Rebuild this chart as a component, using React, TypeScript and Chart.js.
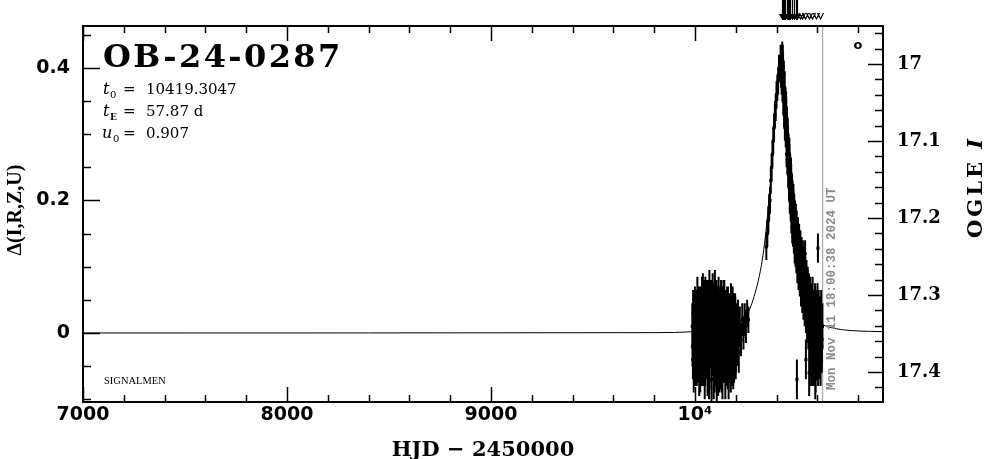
import React, { useEffect, useRef } from "react";
import { Chart, registerables } from "chart.js";

Chart.register(...registerables);

// ---- axis ranges ----
const X_MIN = 7000;
const X_MAX = 10922;
const Y_MIN = -0.1042;
const Y_MAX = 0.4634;
const MAG_TOP = 16.9506;
const MAG_BOTTOM = 17.439;

// ---- tick labels ----
const xTickValues = [7000, 8000, 9000, 10000];
const xTickLabels = ["7000", "8000", "9000", "10⁴"];
const yTickValues = [0, 0.2, 0.4];
const yTickLabels = ["0", "0.2", "0.4"];
const magTickValues = [17, 17.1, 17.2, 17.3, 17.4];
const magTickLabels = ["17", "17.1", "17.2", "17.3", "17.4"];

// ---- event info ----
const eventName = "OB-24-0287";
const paramT0 = "10419.3047";
const paramTE = "57.87 d";
const paramU0 = "0.907";
const nowHJD = 10626.25;
const nowLabel = "Mon Nov 11 18:00:38 2024 UT";

// ---- OGLE photometry: [HJD-2450000, delta flux, error] ----
const season2023a: [number, number, number][] = [
  [9987, 0.01, 0.035], [9990, -0.04, 0.03], [9993, 0.02, 0.04], [9996, -0.02, 0.035],
  [9999, 0.0, 0.03], [10002, -0.05, 0.03], [10005, 0.03, 0.035], [10008, -0.01, 0.04],
  [10011, 0.02, 0.03], [10014, -0.04, 0.035], [10017, 0.04, 0.03], [10020, -0.02, 0.04],
  [10023, 0.01, 0.035], [10026, -0.06, 0.03], [10029, 0.03, 0.04], [10032, -0.01, 0.03],
  [10035, 0.05, 0.035], [10038, -0.04, 0.04], [10041, 0.0, 0.03], [10044, -0.03, 0.035],
  [10047, 0.04, 0.04], [10050, -0.05, 0.03], [10053, 0.02, 0.035], [10056, -0.02, 0.04],
  [10059, 0.05, 0.03], [10062, -0.06, 0.035], [10065, 0.01, 0.04], [10068, -0.03, 0.03],
  [10071, 0.06, 0.035], [10074, -0.01, 0.04], [10077, 0.03, 0.03], [10080, -0.05, 0.035],
  [10083, 0.02, 0.04], [10086, -0.02, 0.03], [10089, 0.04, 0.035], [10092, -0.06, 0.04],
  [10095, 0.01, 0.03], [10098, 0.06, 0.035], [10101, -0.04, 0.04], [10104, 0.02, 0.03],
  [10107, -0.07, 0.035], [10110, 0.03, 0.04], [10113, -0.02, 0.03], [10116, 0.05, 0.035],
  [10119, -0.05, 0.04], [10122, 0.0, 0.03], [10125, -0.03, 0.035], [10128, 0.04, 0.04],
  [10131, -0.06, 0.03], [10134, 0.02, 0.035], [10137, -0.01, 0.04], [10140, 0.05, 0.03],
  [10143, -0.04, 0.035], [10146, 0.01, 0.04], [10149, -0.07, 0.03], [10152, 0.03, 0.035],
  [10155, -0.02, 0.04], [10158, 0.04, 0.03], [10161, -0.05, 0.035], [10164, 0.0, 0.04],
  [10167, 0.03, 0.03], [10170, -0.04, 0.035], [10173, 0.02, 0.04], [10176, -0.06, 0.03],
  [10179, 0.01, 0.035], [10182, -0.02, 0.04], [10185, 0.04, 0.03], [10188, -0.05, 0.035],
  [10191, 0.02, 0.03], [10194, -0.03, 0.035], [10197, 0.03, 0.03], [10200, -0.04, 0.03],
  [10203, 0.01, 0.035], [10207, -0.02, 0.03], [10211, 0.02, 0.03], [10215, -0.03, 0.03],
  [10220, 0.01, 0.03], [10226, -0.01, 0.025], [10232, 0.02, 0.025], [10238, 0.0, 0.025],
  [10244, 0.02, 0.025], [10250, 0.01, 0.025], [10256, 0.03, 0.02], [10262, 0.02, 0.02],
];

const season2023b: [number, number, number][] = [
  [9988, -0.02, 0.03], [9991, 0.03, 0.035], [9994, -0.06, 0.03], [9997, 0.01, 0.04],
  [10000, 0.04, 0.03], [10003, -0.03, 0.035], [10006, 0.0, 0.04], [10009, -0.05, 0.03],
  [10012, 0.05, 0.035], [10015, -0.01, 0.03], [10018, 0.02, 0.04], [10021, -0.06, 0.035],
  [10024, 0.04, 0.03], [10027, -0.02, 0.04], [10030, 0.01, 0.035], [10033, -0.05, 0.03],
  [10036, 0.03, 0.04], [10039, 0.06, 0.03], [10042, -0.04, 0.035], [10045, 0.01, 0.04],
  [10048, -0.07, 0.03], [10051, 0.05, 0.035], [10054, -0.03, 0.04], [10057, 0.0, 0.03],
  [10060, 0.03, 0.04], [10063, -0.04, 0.035], [10066, 0.05, 0.03], [10069, -0.06, 0.04],
  [10072, 0.02, 0.035], [10075, -0.02, 0.03], [10078, 0.04, 0.04], [10081, -0.07, 0.035],
  [10084, 0.0, 0.03], [10087, 0.05, 0.04], [10090, -0.03, 0.035], [10093, 0.03, 0.03],
  [10096, -0.05, 0.04], [10099, 0.02, 0.035], [10102, -0.01, 0.04], [10105, 0.05, 0.03],
  [10108, -0.04, 0.035], [10111, 0.0, 0.04], [10114, -0.06, 0.035], [10117, 0.03, 0.03],
  [10120, 0.01, 0.04], [10123, -0.05, 0.035], [10126, 0.04, 0.03], [10129, -0.02, 0.04],
  [10132, 0.02, 0.035], [10135, -0.07, 0.03], [10138, 0.03, 0.04], [10141, -0.03, 0.035],
  [10144, 0.05, 0.03], [10147, -0.01, 0.04], [10150, 0.02, 0.035], [10153, -0.05, 0.03],
  [10156, 0.01, 0.04], [10159, -0.04, 0.035], [10162, 0.04, 0.03], [10165, -0.06, 0.04],
  [10168, 0.0, 0.035], [10171, 0.03, 0.03], [10174, -0.03, 0.04], [10177, 0.04, 0.035],
  [10180, -0.05, 0.03], [10183, 0.01, 0.035], [10186, -0.02, 0.04], [10189, 0.03, 0.03],
  [10192, -0.04, 0.035], [10195, 0.0, 0.03], [10198, 0.02, 0.035], [10201, -0.03, 0.03],
];

const season2024Rise: [number, number, number][] = [
  [10350, 0.13, 0.02], [10355, 0.15, 0.02], [10360, 0.17, 0.02], [10364, 0.19, 0.02],
  [10368, 0.2, 0.02], [10372, 0.23, 0.02], [10376, 0.25, 0.02], [10380, 0.27, 0.02],
  [10384, 0.29, 0.02], [10388, 0.31, 0.02], [10392, 0.33, 0.02], [10396, 0.34, 0.02],
  [10400, 0.36, 0.02], [10404, 0.37, 0.02], [10408, 0.38, 0.02], [10412, 0.4, 0.02],
  [10416, 0.4, 0.02], [10420, 0.41, 0.025], [10422, 0.39, 0.02],
];

const season2024FallA: [number, number, number][] = [
  [10424, 0.41, 0.025], [10426, 0.39, 0.02], [10428, 0.42, 0.02], [10430, 0.38, 0.02],
  [10432, 0.4, 0.025], [10434, 0.36, 0.02], [10436, 0.39, 0.02], [10438, 0.35, 0.02],
  [10440, 0.37, 0.025], [10442, 0.33, 0.02], [10444, 0.35, 0.02], [10446, 0.31, 0.02],
  [10448, 0.33, 0.025], [10450, 0.29, 0.02], [10452, 0.31, 0.02], [10454, 0.27, 0.02],
  [10456, 0.29, 0.025], [10458, 0.25, 0.02], [10460, 0.27, 0.02], [10462, 0.23, 0.02],
  [10464, 0.26, 0.025], [10466, 0.22, 0.02], [10468, 0.24, 0.02], [10470, 0.2, 0.02],
  [10472, 0.23, 0.025], [10474, 0.19, 0.02], [10476, 0.22, 0.02], [10478, 0.18, 0.025],
  [10480, 0.2, 0.02], [10482, 0.17, 0.02], [10484, 0.19, 0.025], [10486, 0.16, 0.02],
  [10488, 0.18, 0.02], [10490, 0.15, 0.025], [10492, 0.17, 0.02], [10494, 0.14, 0.02],
  [10496, 0.16, 0.025], [10498, 0.13, 0.02], [10500, 0.15, 0.025], [10503, 0.12, 0.02],
  [10506, 0.14, 0.025], [10509, 0.11, 0.02], [10512, 0.13, 0.025], [10515, 0.1, 0.02],
  [10518, 0.12, 0.025], [10521, 0.09, 0.02], [10524, 0.11, 0.03], [10527, 0.08, 0.025],
  [10530, 0.1, 0.03], [10533, 0.07, 0.025], [10536, 0.09, 0.03], [10539, 0.06, 0.025],
  [10542, 0.08, 0.03], [10545, 0.05, 0.03], [10548, 0.07, 0.03], [10551, 0.04, 0.03],
  [10554, 0.06, 0.035], [10557, 0.03, 0.03], [10560, 0.05, 0.035], [10563, 0.02, 0.03],
  [10566, 0.04, 0.035], [10569, 0.01, 0.03], [10572, 0.03, 0.035], [10575, 0.0, 0.04],
  [10578, 0.02, 0.035], [10581, -0.01, 0.04], [10584, 0.01, 0.035], [10587, -0.02, 0.04],
  [10590, 0.02, 0.035], [10593, -0.03, 0.04], [10596, 0.01, 0.035], [10599, -0.02, 0.04],
  [10602, 0.0, 0.035], [10605, 0.02, 0.03], [10608, -0.01, 0.04], [10611, 0.01, 0.035],
  [10614, -0.03, 0.04], [10617, 0.0, 0.035], [10620, 0.01, 0.03], [10623, -0.01, 0.035],
];

const season2024FallB: [number, number, number][] = [
  [10425, 0.38, 0.02], [10427, 0.41, 0.02], [10429, 0.37, 0.02], [10431, 0.41, 0.025],
  [10433, 0.35, 0.02], [10435, 0.38, 0.02], [10437, 0.33, 0.02], [10439, 0.37, 0.025],
  [10441, 0.31, 0.02], [10443, 0.35, 0.02], [10445, 0.3, 0.02], [10447, 0.34, 0.025],
  [10449, 0.27, 0.02], [10451, 0.32, 0.02], [10453, 0.26, 0.02], [10455, 0.3, 0.025],
  [10457, 0.24, 0.02], [10459, 0.28, 0.02], [10461, 0.22, 0.02], [10463, 0.27, 0.025],
  [10465, 0.2, 0.02], [10467, 0.25, 0.02], [10469, 0.19, 0.02], [10471, 0.24, 0.025],
  [10473, 0.17, 0.02], [10475, 0.22, 0.02], [10477, 0.16, 0.025], [10479, 0.21, 0.02],
  [10481, 0.15, 0.02], [10483, 0.2, 0.025], [10485, 0.14, 0.02], [10487, 0.19, 0.02],
  [10489, 0.13, 0.025], [10491, 0.18, 0.02], [10493, 0.12, 0.02], [10495, 0.17, 0.025],
  [10497, 0.11, 0.02], [10499, 0.16, 0.025], [10502, 0.1, 0.025], [10505, 0.15, 0.025],
  [10508, 0.09, 0.025], [10511, 0.14, 0.025], [10514, 0.08, 0.025], [10517, 0.13, 0.025],
  [10520, 0.07, 0.03], [10523, 0.12, 0.025], [10526, 0.06, 0.03], [10529, 0.11, 0.03],
  [10532, 0.05, 0.03], [10535, 0.1, 0.03], [10538, 0.04, 0.03], [10541, 0.09, 0.03],
  [10544, 0.03, 0.03], [10547, 0.08, 0.03], [10550, 0.02, 0.035], [10553, 0.07, 0.03],
  [10556, 0.01, 0.035], [10559, 0.06, 0.03], [10562, -0.01, 0.035], [10565, 0.05, 0.035],
  [10568, -0.02, 0.035], [10571, 0.04, 0.035], [10574, -0.03, 0.04], [10577, 0.05, 0.035],
  [10580, -0.04, 0.04], [10583, 0.03, 0.035], [10586, -0.02, 0.04], [10589, 0.04, 0.035],
  [10592, -0.05, 0.04], [10595, 0.03, 0.035], [10598, -0.03, 0.04], [10601, 0.04, 0.035],
  [10604, -0.04, 0.04], [10607, 0.03, 0.035], [10610, -0.02, 0.04], [10613, 0.02, 0.035],
  [10616, -0.04, 0.04], [10619, 0.03, 0.035], [10622, -0.02, 0.04], [10625, 0.01, 0.035],
];

const season2024Outliers: [number, number, number][] = [
  [10500, -0.07, 0.03], [10540, 0.12, 0.02], [10544, -0.04, 0.03], [10560, -0.06, 0.035],
  [10570, -0.05, 0.03], [10590, -0.07, 0.03], [10603, 0.128, 0.022],
];

// ---- model curve ----
const modelT = [
  7000, 9800, 10000, 10100, 10150, 10200, 10230, 10250, 10270, 10290, 10310, 10330,
  10345, 10360, 10375, 10390, 10400, 10410, 10419, 10428, 10438, 10450, 10465, 10480,
  10500, 10520, 10545, 10570, 10600, 10630, 10670, 10720, 10800, 10922,
];
const modelD = [
  0, 0.0005, 0.002, 0.005, 0.008, 0.013, 0.018, 0.025, 0.037, 0.055, 0.078, 0.11,
  0.145, 0.19, 0.245, 0.31, 0.355, 0.395, 0.415, 0.405, 0.36, 0.29, 0.235, 0.19,
  0.145, 0.11, 0.075, 0.04, 0.02, 0.012, 0.008, 0.005, 0.003, 0.002,
];

// ---- observation arrows along the top ----
const arrowShafts = [10427, 10432, 10437, 10443, 10449, 10455, 10461, 10468, 10476, 10485, 10494, 10502];
const arrowHeadsOnly = [10514, 10527, 10542, 10558, 10576, 10595, 10612];

const allPoints = [
  ...season2023a,
  ...season2023b,
  ...season2024Rise,
  ...season2024FallA,
  ...season2024FallB,
  ...season2024Outliers,
];

const framePlugin = {
  id: "frameAndText",
  afterDraw(chart: any) {
    const { ctx, chartArea: a, scales } = chart;
    const xs = scales.x;
    const ys = scales.y;
    const ms = scales.y2;
    ctx.save();
    ctx.strokeStyle = "#000";
    ctx.fillStyle = "#000";

    // frame
    ctx.lineWidth = 2;
    ctx.strokeRect(a.left, a.top, a.right - a.left, a.bottom - a.top);

    // ticks
    ctx.lineWidth = 1.5;
    ctx.beginPath();
    for (let k = 35; k <= 54; k++) {
      const v = k * 200;
      const px = Math.round(xs.getPixelForValue(v)) + 0.5;
      const len = k % 5 === 0 ? 15 : 7;
      ctx.moveTo(px, a.bottom);
      ctx.lineTo(px, a.bottom - len);
      ctx.moveTo(px, a.top);
      ctx.lineTo(px, a.top + len);
    }
    for (let k = -2; k <= 9; k++) {
      const py = Math.round(ys.getPixelForValue(k * 0.05)) + 0.5;
      const len = k % 4 === 0 ? 17 : 8;
      ctx.moveTo(a.left, py);
      ctx.lineTo(a.left + len, py);
    }
    for (let k = 848; k <= 871; k++) {
      const py = Math.round(ms.getPixelForValue(k / 50)) + 0.5;
      const len = k % 5 === 0 ? 15 : 8;
      ctx.moveTo(a.right, py);
      ctx.lineTo(a.right - len, py);
    }
    ctx.stroke();

    // arrows above the frame
    ctx.lineWidth = 1.2;
    ctx.beginPath();
    for (const t of arrowShafts) {
      const px = Math.round(xs.getPixelForValue(t)) + 0.5;
      ctx.moveTo(px, 0);
      ctx.lineTo(px, 19);
      ctx.moveTo(px - 3, 14);
      ctx.lineTo(px, 19);
      ctx.lineTo(px + 3, 14);
    }
    for (const t of arrowHeadsOnly) {
      const px = Math.round(xs.getPixelForValue(t)) + 0.5;
      ctx.moveTo(px - 3, 13);
      ctx.lineTo(px, 19);
      ctx.lineTo(px + 3, 13);
    }
    ctx.stroke();

    // title and parameters
    ctx.textAlign = "left";
    ctx.textBaseline = "alphabetic";
    ctx.save();
    (ctx as any).letterSpacing = "2.4px";
    ctx.font = "bold 32px 'DejaVu Serif'";
    ctx.fillText(eventName, 103, 67);
    ctx.restore();

    const sym = "italic 16px 'DejaVu Serif'";
    const sub = "10px 'DejaVu Serif'";
    const val = "15px 'DejaVu Serif'";
    ctx.font = sym; ctx.fillText("t", 103, 94);
    ctx.font = sub; ctx.fillText("0", 110, 98);
    ctx.font = val; ctx.fillText("=", 123, 94); ctx.fillText(paramT0, 146, 94);
    ctx.font = sym; ctx.fillText("t", 103, 116);
    ctx.font = "bold 9px 'DejaVu Serif'"; ctx.fillText("E", 110, 120);
    ctx.font = val; ctx.fillText("=", 123, 116); ctx.fillText(paramTE, 146, 116);
    ctx.font = sym; ctx.fillText("u", 102, 138);
    ctx.font = sub; ctx.fillText("0", 113, 142);
    ctx.font = val; ctx.fillText("=", 123, 138); ctx.fillText(paramU0, 146, 138);

    // SIGNALMEN
    ctx.font = "10.5px 'Liberation Serif'";
    ctx.fillText("SIGNALMEN", 104, 384);

    // legend symbol
    ctx.font = "bold 13px 'DejaVu Sans'";
    ctx.textAlign = "center";
    ctx.textBaseline = "middle";
    ctx.fillText("o", 858, 46);

    // x title
    ctx.font = "bold 21px 'DejaVu Serif'";
    ctx.textAlign = "center";
    ctx.textBaseline = "alphabetic";
    ctx.fillText("HJD − 2450000", (a.left + a.right) / 2, 456);

    // left title
    ctx.save();
    ctx.translate(16, 210);
    ctx.rotate(-Math.PI / 2);
    ctx.font = "bold 20px 'Liberation Serif'";
    ctx.textAlign = "center";
    ctx.textBaseline = "middle";
    ctx.fillText("Δ(I,R,Z,U)", 0, 0);
    ctx.restore();

    // right title
    ctx.save();
    ctx.translate(977, 187);
    ctx.rotate(-Math.PI / 2);
    ctx.textBaseline = "middle";
    (ctx as any).letterSpacing = "3px";
    ctx.font = "bold 21px 'DejaVu Serif'";
    const w1 = ctx.measureText("OGLE ").width;
    ctx.font = "bold italic 21px 'DejaVu Serif'";
    const w2 = ctx.measureText("I").width;
    const start = -(w1 + w2) / 2;
    ctx.textAlign = "left";
    ctx.font = "bold 21px 'DejaVu Serif'";
    ctx.fillText("OGLE ", start, 0);
    ctx.font = "bold italic 21px 'DejaVu Serif'";
    ctx.fillText("I", start + w1, 0);
    ctx.restore();

    // current date text
    ctx.save();
    ctx.translate(xs.getPixelForValue(nowHJD) + 9, 390);
    ctx.rotate(-Math.PI / 2);
    ctx.fillStyle = "#8c8c8c";
    ctx.font = "bold 12.5px 'Liberation Mono'";
    ctx.textAlign = "left";
    ctx.textBaseline = "middle";
    ctx.fillText(nowLabel, 0, 0);
    ctx.restore();

    ctx.restore();
  },
};

export default function App() {
  const canvasRef = useRef<HTMLCanvasElement | null>(null);

  useEffect(() => {
    if (!canvasRef.current) return;
    const errData: any[] = [];
    for (const [t, v, e] of allPoints) {
      errData.push({ x: t, y: v - e }, { x: t, y: v + e }, { x: t, y: null });
    }
    const chart = new Chart(canvasRef.current, {
      type: "scatter",
      data: {
        datasets: [
          {
            type: "line",
            label: "now",
            data: [
              { x: nowHJD, y: Y_MIN },
              { x: nowHJD, y: Y_MAX },
            ],
            borderColor: "#999999",
            borderWidth: 1,
            pointRadius: 0,
            order: 4,
          } as any,
          {
            type: "line",
            label: "model",
            data: modelT.map((t, i) => ({ x: t, y: modelD[i] })),
            borderColor: "#000",
            borderWidth: 1,
            pointRadius: 0,
            cubicInterpolationMode: "monotone",
            order: 3,
          } as any,
          {
            type: "line",
            label: "errors",
            data: errData,
            borderColor: "#000",
            borderWidth: 2,
            pointRadius: 0,
            spanGaps: false,
            order: 2,
          } as any,
          {
            type: "scatter",
            label: "OGLE",
            data: allPoints.map(([t, v]) => ({ x: t, y: v })),
            pointStyle: "rect",
            pointRadius: 2.2,
            backgroundColor: "#000",
            borderColor: "#000",
            borderWidth: 0,
            order: 1,
          } as any,
        ],
      },
      options: {
        animation: false,
        responsive: false,
        maintainAspectRatio: false,
        layout: { padding: { top: 26, left: 0, right: 0, bottom: 0 } },
        plugins: { legend: { display: false }, tooltip: { enabled: false } },
        scales: {
          x: {
            type: "linear",
            position: "bottom",
            min: X_MIN,
            max: X_MAX,
            grid: { display: false, drawTicks: false, tickLength: 0 },
            border: { display: false },
            afterBuildTicks: (s: any) => {
              s.ticks = xTickValues.map((v) => ({ value: v }));
            },
            afterFit: (s: any) => {
              s.height = 57;
            },
            ticks: {
              autoSkip: false,
              maxRotation: 0,
              minRotation: 0,
              padding: 2,
              color: "#000",
              font: { family: "'DejaVu Sans'", weight: "bold", size: 19 },
              callback: (_v: any, i: number) => xTickLabels[i],
            },
          },
          y: {
            type: "linear",
            position: "left",
            min: Y_MIN,
            max: Y_MAX,
            grid: { display: false, drawTicks: false, tickLength: 0 },
            border: { display: false },
            afterBuildTicks: (s: any) => {
              s.ticks = yTickValues.map((v) => ({ value: v }));
            },
            afterFit: (s: any) => {
              s.width = 83;
            },
            ticks: {
              autoSkip: false,
              padding: 13,
              color: "#000",
              font: { family: "'DejaVu Sans'", weight: "bold", size: 19 },
              callback: (_v: any, i: number) => yTickLabels[i],
            },
          },
          y2: {
            type: "linear",
            position: "right",
            min: MAG_TOP,
            max: MAG_BOTTOM,
            reverse: true,
            grid: { display: false, drawTicks: false, tickLength: 0 },
            border: { display: false },
            afterBuildTicks: (s: any) => {
              s.ticks = magTickValues.map((v) => ({ value: v }));
            },
            afterFit: (s: any) => {
              s.width = 103;
            },
            ticks: {
              autoSkip: false,
              padding: 14,
              color: "#000",
              font: { family: "'DejaVu Serif'", weight: "bold", size: 18 },
              callback: (_v: any, i: number) => magTickLabels[i],
            },
          },
        },
      } as any,
      plugins: [framePlugin],
    });
    return () => chart.destroy();
  }, []);

  return (
    <div style={{ position: "fixed", left: 0, top: 0, width: 986, height: 459, background: "#fff" }}>
      <canvas ref={canvasRef} width={986} height={459} style={{ display: "block", width: 986, height: 459 }} />
    </div>
  );
}
